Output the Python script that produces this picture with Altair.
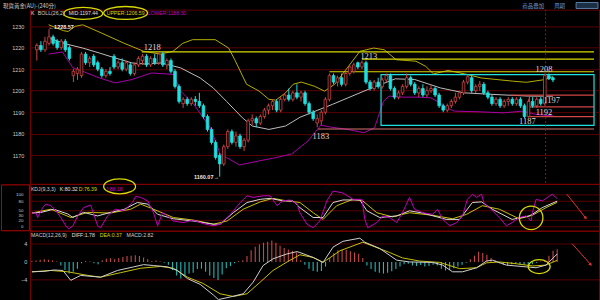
import math
import altair as alt
import pandas as pd

# ---------------- data ----------------
OPEN = [1219,1221,1219,1222,1225,1223,1220,1223,1220,1207,
        1208,1207,1217,1213,1216,1213,1210,1207,1209,1216,
        1211,1213,1210,1212,1208,1212,1214,1216,1212,1215,
        1213,1217,1212,1214,1209,1202,1194,1196,1194,1196,
        1195,1193,1188,1182,1176,1170,1166,1174,1181,1176,
        1179,1174,1177,1186,1187,1185,1188,1191,1193,1195,
        1191,1196,1198,1196,1199,1197,1199,1194,1190,1185,
        1186,1190,1196,1207,1204,1206,1203,1208,1209,1213,
        1211,1213,1204,1201,1204,1202,1205,1207,1201,1197,
        1199,1202,1206,1203,1199,1201,1198,1200,1201,1198,
        1193,1191,1193,1195,1197,1199,1204,1206,1200,1202,
        1203,1199,1197,1194,1196,1193,1195,1196,1194,1196,
        1193,1188,1195,1193,1196,1194,1207,1206]
HIGH = [1222,1223,1225,1228.57,1226,1224,1224,1224,1221,1210,
        1211,1218,1218,1216,1217,1214,1211,1210,1211,1217,
        1214,1215,1214,1213,1213,1216,1217,1217,1216,1217,
        1218,1218,1215,1215,1210,1203,1197,1197,1197,1197.5,
        1199,1194,1189,1183,1177,1171,1175,1182,1182,1181,
        1180,1178,1187,1189,1188,1189,1192,1194,1196,1196,
        1197,1199,1201,1200,1203,1200,1200,1195,1191,1189,
        1191,1197,1208,1208,1207,1208,1209,1212,1213,1213.5,
        1214,1214,1205,1205,1206,1206,1208,1208,1202,1200,
        1203,1208,1207,1204,1202,1203,1202,1203,1202,1199,
        1194,1194,1196,1199,1200,1205,1207.5,1207,1203,1204.5,
        1204,1200,1198,1197,1197,1196,1197,1197,1197,1197,
        1194,1196,1197,1197,1197,1208,1208,1206.5]
LOW = [1214,1218,1218,1221,1221,1219,1219,1218,1214,1204,
       1205,1206,1212,1211,1211,1209,1206,1206,1207,1210,
       1210,1209,1209,1207,1207,1211,1212,1211,1211,1212,
       1212,1211,1210,1208,1201,1194,1192,1193,1193,1193,
       1192,1187,1181,1175,1168,1160.07,1165,1173,1175,1174,
       1173,1172,1176,1184,1183,1184,1187,1189,1191,1190,
       1190,1195,1195,1195,1196,1195,1193,1189,1186,1183,
       1184,1189,1195,1203,1202,1202,1202,1207,1208,1210,
       1210,1203,1200,1200,1201,1201,1204,1200,1196,1196,
       1198,1201,1202,1198,1197,1197,1197,1199,1197,1192,
       1190,1190,1192,1194,1196,1198,1203,1199,1199,1200,
       1198,1196,1193,1193,1192,1192,1193,1193,1193,1192,
       1187.2,1187.5,1192,1192,1193,1193,1205,1204]
CLOSE = [1221,1219,1223,1225,1222,1220,1223,1219,1215,1209,
         1210,1217,1213,1215,1212,1210,1207,1209,1208,1211,
         1213,1210,1213,1208,1212,1215,1216,1212,1215,1213,
         1217,1212,1214,1209,1202,1195,1196,1194,1196,1195,
         1193,1188,1182,1176,1169,1166,1174,1181,1176,1179,
         1174,1177,1186,1187,1185,1188,1191,1193,1195,1191,
         1196,1198,1196,1199,1197,1199,1194,1190,1187,1187,
         1190,1196,1207,1204,1206,1203,1208,1211,1212,1211,
         1213,1204,1201,1204,1202,1205,1207,1201,1197,1199,
         1202,1206,1203,1199,1201,1198,1200,1201,1198,1193,
         1191,1193,1195,1197,1199,1204,1206.5,1200,1202,1203,
         1199,1197,1194,1196,1193,1195,1196,1194,1196,1193,
         1188,1195,1193,1196,1194,1207,1205.5,1205]

MID_I = [2.9,7.2,11.3,15.4,19.3,23.4,26.5,30.6,35.4,40.2,43.4,46.7,50.6,53,57.1,61.2,64.8,72.8,81,88.2,93,99.3,105.1,113,121,127]
MID_V = [1224.5,1221.7,1219.8,1217.5,1215.2,1212.9,1212.4,1212.9,1210.6,1205.9,1201.3,1195,1187.4,1183.6,1182,1183.6,1187.7,1193.7,1200.2,1205.5,1205.2,1201.3,1199,1198.2,1197.5,1197.44]
UP_I = [2.9,6.5,7.7,9.4,11.3,15.9,21.4,26.3,30.4,33.5,35.9,38.3,43.9,47.2,48.7,51.6,54.7,57.1,58.8,61.2,63.1,65.1,68.4,70.8,73.3,76.4,79.5,82.9,85.5,88.4,93.3,95.7,97.6,101.2,105.3,109.4,117.3,120.5,125.1,127]
UP_V = [1230.6,1227.9,1227.5,1229.9,1230.6,1226.8,1222.1,1218.3,1217,1218.3,1222,1223.7,1223.7,1219.8,1214.4,1203,1199.8,1196,1195.6,1199,1203,1204,1202,1199.8,1203,1210.6,1218.3,1219.8,1219,1214.4,1213.7,1211.3,1207.8,1209.4,1207.8,1205.9,1204.4,1203.9,1205.2,1206.59]
LO_I = [2.9,6.3,8.9,11.3,15.4,19.3,23.4,28.2,31.8,33.7,35.4,38.6,42.7,45.1,46.7,49.9,54.7,58.8,62.7,66.7,69.9,72.3,76.4,80.5,83.1,85.3,86.7,90.1,94,96.9,98.6,100.2,102.7,108.9,114.7,119.5,122.7,127]
LO_V = [1217,1218,1210.6,1209,1205.9,1203.6,1205.2,1208.2,1207.8,1207.5,1199.8,1193.7,1182.8,1170.6,1168.9,1165.5,1167.4,1168.9,1170.6,1176.6,1184,1183.1,1182,1180.5,1182.8,1195.1,1197.5,1197,1197,1196.7,1195,1192.8,1190.5,1190.2,1189.7,1190.5,1189,1188.3]

K_I = [0,2.2,5.3,8.7,9.9,12.5,15.9,19,22.2,25.5,28,30.4,34.2,39,43.9,45.5,48.7,52,55.2,57.6,60.7,63.1,64.8,68,70.4,72.8,75.2,79.3,81,84.1,88.2,91.3,94.5,100.2,103.4,106.5,108.7,111.3,116.1,120.2,121,123.4,127]
K_V = [43,45,55,40,29,45,34,45,54,76,71,39,25,18,8,8,44,76,86,89,81,81,60,29,29,76,84,84,50,29,34,50,43,23,23,76,78,55,23,34,39,60,80.32]
D_I = [0,4.6,9.4,13.5,19,23.9,26.3,29.4,34.2,39,43.9,47.2,51.1,55.2,58.3,61.7,64.8,68,70.4,73.7,77.6,80,83.4,87.2,91.3,96.9,101.7,105.1,108.9,113,117.8,121,124.3,127]
D_V = [43,55,29,45,43,55,71,55,29,21,8,18,55,78,89,81,76,44,23,66,86,81,44,31,44,36,25,39,66,55,25,36,60,76.39]
J_I = [0,1,1.4,2.6,3.4,4.6,5.8,7,8.2,8.9,9.9,11.1,12.5,14.2,15.9,16.6,18.3,20.2,22.2,24.3,
       25.1,26.3,28,29.4,30.4,31.6,32.3,34.2,36.6,39,41.4,43.9,45.5,48,50.4,52,53.5,55.9,57.6,59.3,
       60.5,62.4,64.1,64.8,66.5,68,69.6,71.3,72.8,75.2,77.6,79.8,80.5,81.2,83.4,84.8,86.5,88.2,89.6,91.3,
       92.5,94.5,96.9,98.1,99.3,101,102.7,104.1,105.3,106.5,107.5,108.7,109.4,110.6,113,114.7,116.1,117.8,119.5,120.7,
       121,121.9,123.4,125.8,127]
J_V = [43,43,29,60,71,66,50,29,3,-7,3,34,60,68,3,-3,34,55,50,76,
       95,92,81,44,3,44,39,18,13,21,10,3,8,39,76,97,92,97,97,66,
       81,84,71,44,8,-3,18,81,112,106,86,86,23,-3,13,34,29,13,44,92,
       55,44,39,55,23,3,13,34,86,102,92,102,71,60,29,3,13,29,34,18,
       44,86,81,102,88.18]

HIST = [0.2,0.3,0.5,0.6,0.5,0.3,0.1,-0.8,-1.8,-2.6,
        -2.2,-1.5,-0.3,0.2,0.1,-0.3,-0.5,0.4,0.7,0.8,
        0.6,0.9,1.1,1.3,1.4,1.5,1.3,1.0,0.6,0.2,
        0.3,0.1,-0.2,-0.6,-1.8,-3.0,-3.7,-3.2,-2.6,-2.4,
        -1.6,-1.5,-2.2,-3.0,-3.6,-4.0,-2.8,-1.4,-0.9,-0.3,
        0.2,0.4,1.3,2.6,3.4,3.9,4.3,4.5,4.8,4.3,
        3.6,3.1,2.8,2.5,2.1,0.4,-0.6,-1.5,-2.0,-2.2,
        -2.0,-1.0,0.9,2.0,2.6,2.8,2.7,2.4,2.1,1.8,
        0.9,-0.8,-1.6,-2.2,-2.4,-2.6,-2.4,-2.1,-1.6,-1.0,
        -0.5,-0.4,-0.8,-0.9,-0.7,-1.0,-0.9,-0.6,-0.8,-1.5,
        -1.9,-1.8,-1.4,-1.0,-0.6,-0.2,0.6,1.4,2.3,2.0,
        1.6,0.9,0.4,-0.3,-0.6,-0.8,-0.5,-0.4,-0.6,-0.7,
        -0.9,-0.5,-0.2,0.1,0.3,1.4,2.5,2.82]
DIFF_I = [0,2.9,5.3,7.5,9.4,11.8,16.6,20.7,24.6,27,29.4,32.8,35.2,37.6,40.7,43.9,45.1,48,51.1,53.5,55.9,58.3,61.7,64.1,64.8,68,70.4,72.8,75.2,79.3,80.5,84.1,88.2,91.3,96.9,99.3,101.7,104.1,107.5,109.9,111.3,114.7,119.5,121.9,124.3,127]
DIFF_V = [-2.2,-2.1,-1.8,-1.9,-4.1,-3.0,-3.4,-1.9,-1.1,-0.6,-0.8,-1.1,-1.9,-3.7,-5.0,-7.4,-8.4,-7.8,-7.1,-4.5,-0.8,0.7,1.8,2.3,2.1,1.0,-0.1,3.3,4.6,5.3,4.4,3.0,0.4,0,-0.1,-0.7,-2.2,-2.2,-1.3,0.2,0.4,-0.7,-1.1,-1.3,-0.7,1.78]
DEA_I = [0,4.6,8.7,13.5,16.6,21.4,26.3,31.1,34.2,37.6,41.4,45.5,48.7,52,55.2,58.3,61.7,64.8,68,70.4,74.5,80,86.5,89.6,93.7,98.6,103.4,107.5,109.9,113,117.1,121,124.3,127]
DEA_V = [-2.2,-1.9,-2.2,-3.0,-3.4,-2.4,-1.4,-1.0,-1.4,-3.4,-4.8,-7.1,-7.7,-7.1,-4.5,-1.9,0,1.6,1.0,-0.1,2.5,4.4,2.1,0.9,0.2,-0.1,-1.5,-1.3,-0.2,0,-0.4,-0.9,-0.7,0.37]

# annotation lines drawn on the price panel
HL_X1 = [25.8, 80, 72, 69.2, 116.6, 121, 121]
HL_P = [1218, 1214.7, 1208.8, 1182.2, 1197.9, 1192.5, 1188]
HL_KIND = ["y", "y", "y", "p", "r", "r", "r"]
LBL_T = ["1218", "1213", "1183", "1208", "1197", "1192", "1187"]
LBL_I = [28.4, 81.7, 69.9, 124.8, 126.7, 124.8, 120.7]
LBL_P = [1220.3, 1216.0, 1178.9, 1210.1, 1195.6, 1190.2, 1185.9]

# ---------------- styling ----------------
RED = "#d04545"
CYAN = "#1ee0e0"
YEL = "#d8d800"
BAND_UP = "#b4ae00"
BAND_MID = "#bdbdbd"
BAND_LO = "#a800a8"
GRID = "#5a0000"
LBLC = "#c8c8c8"
XEND = 137.11
HS = 5.2  # header font size

ONE = pd.DataFrame({"z": [0]})
XS = alt.Scale(domain=[-0.48, XEND], nice=False, zero=False)


def X(f):
    return alt.X(f, scale=XS, axis=None)


def T(t, x, y, color, size=HS, align="left", font="Liberation Sans", weight="normal"):
    return alt.Chart(ONE).mark_text(text=t, align=align, baseline="middle", font=font,
                                    fontSize=size, fontWeight=weight, color=color
                                    ).encode(x=alt.value(x), y=alt.value(y))


def E(x, y, w, h, color=YEL, sw=1.3):
    r = round(h / w, 3)
    path = f"M -1 0 A 1 {r} 0 1 1 1 0 A 1 {r} 0 1 1 -1 0 Z"
    return alt.Chart(ONE).mark_point(shape=path, size=w * w, filled=False, color=color,
                                     strokeWidth=sw, opacity=1
                                     ).encode(x=alt.value(x), y=alt.value(y))


def A(x1, y1, x2, y2, color="#e03030"):
    ang = math.degrees(math.atan2(x2 - x1, -(y2 - y1))) % 360
    line = alt.Chart(ONE).mark_rule(color=color, strokeWidth=1).encode(
        x=alt.value(x1), y=alt.value(y1), x2=alt.value(x2), y2=alt.value(y2))
    head = alt.Chart(ONE).mark_point(shape="triangle-up", angle=ang, size=14, filled=True,
                                     color=color, opacity=1).encode(x=alt.value(x2), y=alt.value(y2))
    return line + head


def ax(values, pad, grid, size=5.5, baseline="middle"):
    return alt.Axis(values=values, title=None, grid=grid, gridColor=GRID, gridWidth=1,
                    domain=False, ticks=False, tickSize=0, labelPadding=pad, format="d",
                    labelColor=LBLC, labelFontSize=size, labelFont="Liberation Sans",
                    labelOverlap=False, labelBound=False, labelBaseline=baseline)


# ---------------- price panel ----------------
YM = alt.Scale(domain=[1156.71, 1237.73], nice=False, zero=False)
AXM = ax([1170, 1180, 1190, 1200, 1210, 1220, 1230], 6, True)

candles = pd.DataFrame({"i": list(range(len(CLOSE))), "o": OPEN, "h": HIGH, "l": LOW, "c": CLOSE})
bull = "datum.c >= datum.o"

topbar = alt.Chart(ONE).mark_rect(color="#000000").encode(
    x=alt.value(-29), x2=alt.value(571), y=alt.value(-8), y2=alt.value(0))


def band(ii, vv, color):
    return alt.Chart(pd.DataFrame({"i": ii, "v": vv})).mark_line(color=color, strokeWidth=1).encode(
        x=X("i:Q"), y=alt.Y("v:Q", scale=YM, axis=AXM))


kind_color = {"y": YEL, "p": "#d87070", "r": RED}
hl = pd.DataFrame({"x1": HL_X1, "x2": [XEND] * len(HL_X1), "p": HL_P,
                   "col": [kind_color[k] for k in HL_KIND]})
hlines = alt.Chart(hl).mark_rule(strokeWidth=1.2).encode(
    x=X("x1:Q"), x2="x2:Q", y=alt.Y("p:Q", scale=YM, axis=AXM), color=alt.Color("col:N", scale=None))
vseg = alt.Chart(pd.DataFrame({"i": [121.2], "a": [1188], "b": [1197.9]})).mark_rule(
    color=RED, strokeWidth=1.2).encode(x=X("i:Q"), y=alt.Y("a:Q", scale=YM, axis=AXM), y2="b:Q")
box = alt.Chart(pd.DataFrame({"a": [84.7], "b": [XEND], "t": [1207.5], "u": [1183.9]})).mark_rect(
    fillOpacity=0, stroke=CYAN, strokeWidth=1.2).encode(
    x=X("a:Q"), x2="b:Q", y=alt.Y("t:Q", scale=YM, axis=AXM), y2="u:Q")
dashed = alt.Chart(pd.DataFrame({"i": [125.2]})).mark_rule(
    color="#c00000", strokeDash=[2, 2], strokeWidth=1).encode(
    x=X("i:Q"), y=alt.value(0), y2=alt.value(175))

wicks = alt.Chart(candles).mark_rule(strokeWidth=1).encode(
    x=X("i:Q"), y=alt.Y("l:Q", scale=YM, axis=AXM), y2="h:Q",
    color=alt.condition(bull, alt.value(RED), alt.value(CYAN)))
bodies = alt.Chart(candles).mark_bar(size=2.6, strokeWidth=0.8).encode(
    x=X("i:Q"), y=alt.Y("o:Q", scale=YM, axis=AXM), y2="c:Q",
    fill=alt.condition(bull, alt.value("#000000"), alt.value(CYAN)),
    stroke=alt.condition(bull, alt.value(RED), alt.value(CYAN)))

labels = alt.Chart(pd.DataFrame({"i": LBL_I, "p": LBL_P, "t": LBL_T})).mark_text(
    font="Liberation Serif", fontSize=8.5, color="#d8d8d8", baseline="middle").encode(
    x=X("i:Q"), y=alt.Y("p:Q", scale=YM, axis=AXM), text="t:N")
ext = alt.Chart(pd.DataFrame({"i": [2.9, 44.8], "p": [1229.4, 1159.95],
                              "t": ["\u21901228.57", "1160.07\u2192"], "al": ["l", "r"]}))
ext_l = ext.transform_filter("datum.al == 'l'").mark_text(
    font="Liberation Sans", fontSize=5.5, fontWeight="bold", color="#e8e8e8", align="left",
    baseline="middle").encode(x=X("i:Q"), y=alt.Y("p:Q", scale=YM, axis=AXM), text="t:N")
ext_r = ext.transform_filter("datum.al == 'r'").mark_text(
    font="Liberation Sans", fontSize=5.5, fontWeight="bold", color="#e8e8e8", align="right",
    baseline="middle").encode(x=X("i:Q"), y=alt.Y("p:Q", scale=YM, axis=AXM), text="t:N")

head_main = [
    T("\u73fe\u8ca8\u9ec3\u91d1(AU)-(240\u5206)", -27, -3.8, "#d0d0d0", 5.5, font="Noto Sans CJK TC"),
    T("\u5546\u54c1\u758a\u52a0", 494, -3.8, "#6f94c4", 5.5, font="Noto Sans CJK TC"),
    T("\u5468\u671f", 526, -3.8, "#6f94c4", 5.5, font="Noto Sans CJK TC"),
    alt.Chart(ONE).mark_rect(fill="#1b2f45", stroke="#6f94c4", strokeWidth=0.8).encode(
        x=alt.value(548), x2=alt.value(570), y=alt.value(-7), y2=alt.value(-1)),
    T("K", 1, 4, "#e0e0e0"),
    T("BOLL(26,2)", 8, 4, "#d0d0d0"),
    T("MID:1197.44", 39, 4, "#e0e0e0"),
    T("UPPER:1206.59", 77, 4, YEL),
    T("LOWER:1188.30", 118, 4, "#c000c0"),
    E(53.5, 4, 39, 12),
    E(96, 3.5, 44, 13),
]

main = alt.layer(
    topbar,
    band(UP_I, UP_V, BAND_UP), band(MID_I, MID_V, BAND_MID), band(LO_I, LO_V, BAND_LO),
    hlines, vseg, box, dashed, wicks, bodies, labels, ext_l, ext_r, *head_main
).properties(width=571, height=175)

# ---------------- KDJ panel ----------------
YK = alt.Scale(domain=[-12.5, 134.4], nice=False, zero=False)
AXK = ax([0, 20, 30, 50, 80, 100], 7, False, size=4.4,
         baseline={"condition": {"test": "datum.value == 30", "value": "bottom"}, "value": "middle"})


def kline(ii, vv, color):
    return alt.Chart(pd.DataFrame({"i": ii, "v": vv})).mark_line(color=color, strokeWidth=1).encode(
        x=X("i:Q"), y=alt.Y("v:Q", scale=YK, axis=AXK))


kgrid = alt.Chart(pd.DataFrame({"g": [100, 80, 50, 20, 0]})).mark_rule(color=GRID, strokeWidth=1).encode(
    y=alt.Y("g:Q", scale=YK, axis=AXK), x=alt.value(0), x2=alt.value(571))
kbox = alt.Chart(ONE).mark_rect(fillOpacity=0, stroke="#b80000", strokeWidth=1).encode(
    x=alt.value(-28.5), x2=alt.value(-0.5), y=alt.value(1), y2=alt.value(47))
kcircle = alt.Chart(pd.DataFrame({"i": [120.7], "v": [28]})).mark_point(
    shape="circle", size=560, filled=False, color=YEL, strokeWidth=1.3, opacity=1).encode(
    x=X("i:Q"), y=alt.Y("v:Q", scale=YK, axis=AXK))

kdj = alt.layer(
    kgrid, kbox,
    kline(D_I, D_V, "#c8c000"), kline(K_I, K_V, "#d8d8d8"), kline(J_I, J_V, "#c000c0"),
    T("KDJ(9,3,3)", 1, 4.7, "#d0d0d0"),
    T("K:80.32", 30, 4.7, "#e0e0e0"),
    T("D:76.39", 49, 4.7, YEL),
    T("J:88.18", 76, 4.7, "#d000d0"),
    E(90, 2.5, 32, 15),
    kcircle,
    A(538.7, 10.3, 557.7, 34.3),
).properties(width=571, height=47)

# ---------------- MACD panel ----------------
YD = alt.Scale(domain=[-8.6, 6.96], nice=False, zero=False)
AXD = ax([-4, 0, 4], 3, False)

mgrid = alt.Chart(pd.DataFrame({"g": [4, -4]})).mark_rule(color=GRID, strokeWidth=1).encode(
    y=alt.Y("g:Q", scale=YD, axis=AXD), x=alt.value(0), x2=alt.value(571))
hist = alt.Chart(pd.DataFrame({"i": list(range(len(HIST))), "v": HIST})).mark_rule(strokeWidth=1.1).encode(
    x=X("i:Q"), y=alt.Y("v:Q", scale=YD, axis=AXD), y2=alt.datum(0),
    color=alt.condition("datum.v >= 0", alt.value("#c84848"), alt.value("#22b8b8")))


def mline(ii, vv, color):
    return alt.Chart(pd.DataFrame({"i": ii, "v": vv})).mark_line(color=color, strokeWidth=1).encode(
        x=X("i:Q"), y=alt.Y("v:Q", scale=YD, axis=AXD))


macd = alt.layer(
    mgrid, hist,
    mline(DEA_I, DEA_V, "#c8c000"), mline(DIFF_I, DIFF_V, "#d0d0d0"),
    T("MACD(12,26,9)", 1, 4, "#d0d0d0"),
    T("DIFF:1.78", 42, 4, "#e0e0e0"),
    T("DEA:0.37", 70, 4, YEL),
    T("MACD:2.82", 97, 4, "#d0d0d0"),
    E(511, 36, 22, 14),
    A(544, 13, 562.7, 34),
).properties(width=571, height=70)

chart = alt.vconcat(main, kdj, macd, spacing=0, bounds="flush").properties(
    background="#000000", padding=0, autosize=alt.AutoSizeParams(type="pad")
).configure_view(stroke="#800000", strokeWidth=1)

chart.save("out.html", embed_options={"renderer": "svg", "actions": False})
